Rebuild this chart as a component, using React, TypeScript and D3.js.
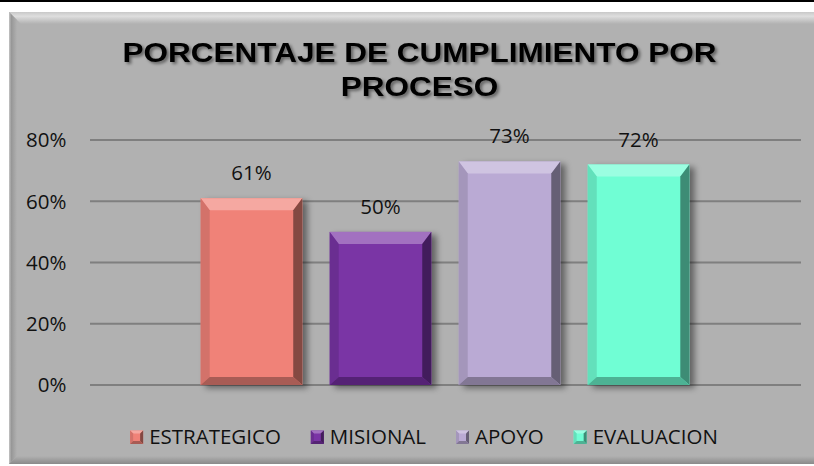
import React from "react";
import * as d3 from "d3";

const categories = ["ESTRATEGICO", "MISIONAL", "APOYO", "EVALUACION"];
const values = [0.61, 0.5, 0.73, 0.72];
const colors = ["#f08278", "#7a34a5", "#baaad4", "#70fed4"];
const yTicks = [0, 0.2, 0.4, 0.6, 0.8];
const titleLines = ["PORCENTAJE DE CUMPLIMIENTO POR", "PROCESO"];

const W = 814;
const H = 466;
const FONT = "'Open Sans', sans-serif";
const FS = 20.5;

function measure(text: string, font: string): number {
  if (typeof document === "undefined") return text.length * 11;
  const c = document.createElement("canvas");
  const ctx = c.getContext("2d");
  if (!ctx) return text.length * 11;
  ctx.font = font;
  return ctx.measureText(text).width;
}

function mix(c: string, target: string, t: number) {
  return d3.interpolateRgb(c, target)(t);
}

function BevelRect({ x0, y0, x1, y1, color, bt, bs, bb }: any) {
  const top = `${x0},${y0} ${x1},${y0} ${x1 - bs},${y0 + bt} ${x0 + bs},${y0 + bt}`;
  const left = `${x0},${y0} ${x0 + bs},${y0 + bt} ${x0 + bs},${y1 - bb} ${x0},${y1}`;
  const right = `${x1},${y0} ${x1},${y1} ${x1 - bs},${y1 - bb} ${x1 - bs},${y0 + bt}`;
  const bottom = `${x0},${y1} ${x0 + bs},${y1 - bb} ${x1 - bs},${y1 - bb} ${x1},${y1}`;
  return (
    <g>
      <rect x={x0} y={y0} width={x1 - x0} height={y1 - y0} fill={color} />
      <polygon points={top} fill={mix(color, "#ffffff", 0.3)} />
      <polygon points={left} fill={mix(color, "#000000", 0.12)} />
      <polygon points={right} fill={mix(color, "#000000", 0.45)} />
      <polygon points={bottom} fill={mix(color, "#000000", 0.3)} />
    </g>
  );
}

export default function App() {
  const x = d3
    .scaleBand<string>()
    .domain(categories)
    .range([90, 800])
    .paddingInner(0.213)
    .paddingOuter(0.858);
  const y = d3.scaleLinear().domain([0, 0.8]).range([385, 140]);
  const pct = d3.format(".0%");

  // legend layout
  const legendFont = `${FS}px ${FONT}`;
  const marker = 13;
  const mGap = 6;
  const itemGap = 30;
  const widths = categories.map((c) => measure(c, legendFont));
  const itemW = widths.map((w) => marker + mGap + w);
  const total = d3.sum(itemW) + itemGap * (categories.length - 1);
  const legendCx = 424;
  let lx = legendCx - total / 2;
  const legendX = itemW.map((w) => {
    const p = lx;
    lx += w + itemGap;
    return p;
  });

  return (
    <svg
      width={W}
      height={H}
      style={{ position: "absolute", left: 0, top: 0, display: "block" }}
    >
      <defs>
        <filter id="tshadow" x="-10%" y="-30%" width="120%" height="160%">
          <feDropShadow dx="2" dy="2" stdDeviation="1.5" floodColor="#000" floodOpacity="0.45" />
        </filter>
        <filter id="bshadow" x="-20%" y="-10%" width="150%" height="130%">
          <feDropShadow dx="5" dy="3" stdDeviation="3" floodColor="#000" floodOpacity="0.45" />
        </filter>
        <linearGradient id="topBevel" x1="0" y1="0" x2="0" y2="1">
          <stop offset="0" stopColor="#c8c8c8" />
          <stop offset="0.35" stopColor="#dedede" />
          <stop offset="1" stopColor="#b1b1b1" />
        </linearGradient>
        <linearGradient id="leftBevel" x1="0" y1="0" x2="1" y2="0">
          <stop offset="0" stopColor="#c4c4c4" />
          <stop offset="0.3" stopColor="#979797" />
          <stop offset="1" stopColor="#b1b1b1" />
        </linearGradient>
        <linearGradient id="botBevel" x1="0" y1="0" x2="0" y2="1">
          <stop offset="0" stopColor="#b1b1b1" />
          <stop offset="1" stopColor="#8a8a8a" />
        </linearGradient>
      </defs>

      <rect x={0} y={0} width={W} height={H} fill="#ffffff" />
      <rect x={0} y={0} width={W} height={2} fill="#000000" />

      {/* panel */}
      <rect x={9} y={12} width={W} height={452} fill="#b1b1b1" />
      <polygon points={`9,12 ${W},12 ${W},24 21,24`} fill="url(#topBevel)" />
      <polygon points={`9,12 17,20 17,456 9,464`} fill="url(#leftBevel)" />
      <polygon points={`9,464 17,456 ${W},456 ${W},464`} fill="url(#botBevel)" />

      {/* title */}
      <g transform="translate(419.5,0) scale(1.125,1)" filter="url(#tshadow)">
        {titleLines.map((t, i) => (
          <text
            key={t}
            x={0}
            y={62.3 + i * 33.4}
            textAnchor="middle"
            fontFamily="'Liberation Sans', Arial, sans-serif"
            fontWeight="bold"
            fontSize={28}
            fill="#000"
          >
            {t}
          </text>
        ))}
      </g>

      {/* grid + y axis */}
      {yTicks.map((t) => (
        <g key={t}>
          <line x1={90} x2={801} y1={y(t)} y2={y(t)} stroke="#7f7f7f" strokeWidth={2} />
          <text
            x={66.5}
            y={y(t)}
            dy="0.36em"
            textAnchor="end"
            fontFamily={FONT}
            fontSize={FS}
            fill="#111"
          >
            {pct(t)}
          </text>
        </g>
      ))}

      {/* bars */}
      {categories.map((c, i) => {
        const x0 = x(c)!;
        const x1 = x0 + x.bandwidth();
        const y0 = y(values[i]);
        const y1 = y(0);
        return (
          <g key={c}>
            <g filter="url(#bshadow)">
              <BevelRect x0={x0} y0={y0} x1={x1} y1={y1} color={colors[i]} bt={12} bs={9} bb={8} />
            </g>
            <text
              x={x0 + x.bandwidth() / 2}
              y={y0 - 18}
              textAnchor="middle"
              fontFamily={FONT}
              fontSize={FS}
              fill="#111"
            >
              {pct(values[i])}
            </text>
          </g>
        );
      })}

      {/* legend */}
      {categories.map((c, i) => (
        <g key={c} transform={`translate(${legendX[i]},0)`}>
          <BevelRect x0={0} y0={430.5} x1={marker} y1={444} color={colors[i]} bt={3} bs={3} bb={3} />
          <text x={marker + mGap} y={444} fontFamily={FONT} fontSize={FS} fill="#111">
            {c}
          </text>
        </g>
      ))}
    </svg>
  );
}
